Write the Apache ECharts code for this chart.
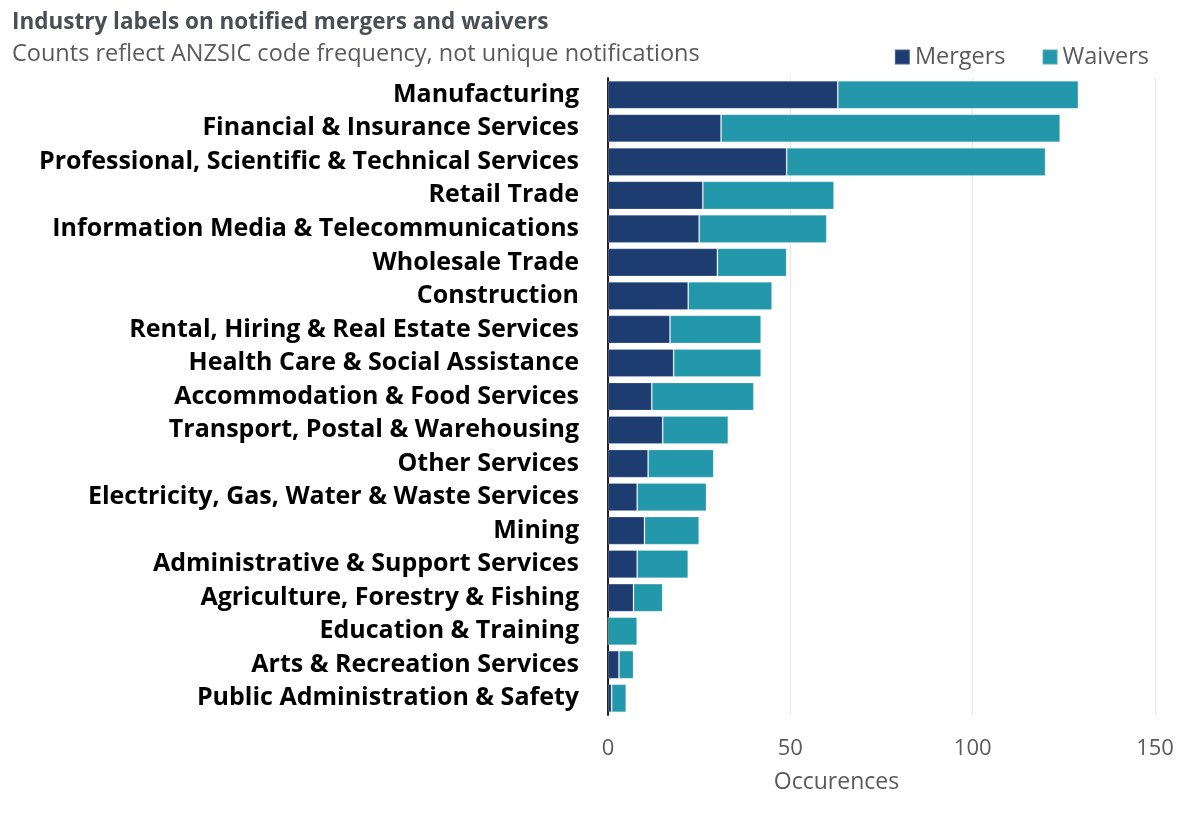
<!DOCTYPE html>
<html>
<head>
<meta charset="UTF-8">
<title>Industry labels on notified mergers and waivers</title>
<script src="https://cdn.jsdelivr.net/npm/echarts@6/dist/echarts.min.js"></script>
<style>
  html, body { margin: 0; padding: 0; background: #fff; }
  #content { width: 1200px; height: 813px; }
</style>
</head>
<body>
<div id="content"></div>
<script>
// data, top to bottom
var industries = [
    'Manufacturing',
    'Financial & Insurance Services',
    'Professional, Scientific & Technical Services',
    'Retail Trade',
    'Information Media & Telecommunications',
    'Wholesale Trade',
    'Construction',
    'Rental, Hiring & Real Estate Services',
    'Health Care & Social Assistance',
    'Accommodation & Food Services',
    'Transport, Postal & Warehousing',
    'Other Services',
    'Electricity, Gas, Water & Waste Services',
    'Mining',
    'Administrative & Support Services',
    'Agriculture, Forestry & Fishing',
    'Education & Training',
    'Arts & Recreation Services',
    'Public Administration & Safety'
];
var mergers = [63, 31, 49, 26, 25, 30, 22, 17, 18, 12, 15, 11, 8, 10, 8, 7, 0, 3, 1];
var waivers = [66, 93, 71, 36, 35, 19, 23, 25, 24, 28, 18, 18, 19, 15, 14, 8, 8, 4, 4];
var xTicks = [0, 50, 100, 150];

var font = '"Open Sans", Lato, sans-serif';
var myChart = echarts.init(document.getElementById('content'));

var option = {
    animation: false,
    textStyle: { fontFamily: font },
    title: {
        text: 'Industry labels on notified mergers and waivers',
        subtext: 'Counts reflect ANZSIC code frequency, not unique notifications',
        left: 7,
        top: 6,
        itemGap: 8,
        textStyle: { fontSize: 22.5, fontWeight: 'bold', color: '#4a4f56', fontFamily: font },
        subtextStyle: { fontSize: 23.5, color: '#5a5a5a', fontFamily: font }
    },
    legend: {
        data: ['Mergers', 'Waivers'],
        right: 46,
        top: 40,
        icon: 'rect',
        itemWidth: 15,
        itemHeight: 15,
        itemGap: 36,
        textStyle: { fontSize: 23.5, color: '#5a5a5a', fontFamily: font }
    },
    grid: {
        left: 608,
        right: 45,
        top: 78,
        bottom: 98,
        containLabel: false
    },
    xAxis: {
        type: 'value',
        min: xTicks[0],
        max: xTicks[xTicks.length - 1],
        interval: 50,
        name: 'Occurences',
        nameLocation: 'middle',
        nameGap: 56,
        nameTextStyle: { fontSize: 23, color: '#5a5a5a', padding: [0, 90, 0, 0] },
        axisLine: { show: false },
        axisTick: { show: false },
        axisLabel: { fontSize: 22, color: '#5a5a5a', margin: 23 },
        splitLine: { show: true, lineStyle: { color: '#e6e6e6', width: 1 } }
    },
    yAxis: {
        type: 'category',
        data: industries,
        inverse: true,
        axisLine: { show: true, lineStyle: { color: '#222', width: 2 } },
        axisTick: { show: false },
        axisLabel: {
            fontSize: 25,
            fontWeight: 'bold',
            color: '#000',
            margin: 29,
            fontFamily: font
        }
    },
    series: [
        {
            name: 'Mergers',
            type: 'bar',
            stack: 'total',
            barCategoryGap: '16%',
            itemStyle: { color: '#1d3d71', borderColor: 'rgba(255,255,255,0.2)', borderWidth: 1 },
            data: mergers
        },
        {
            name: 'Waivers',
            type: 'bar',
            stack: 'total',
            barCategoryGap: '16%',
            itemStyle: { color: '#2398aa', borderColor: 'rgba(255,255,255,0.2)', borderWidth: 1 },
            data: waivers
        }
    ]
};

myChart.setOption(option);
</script>
</body>
</html>
